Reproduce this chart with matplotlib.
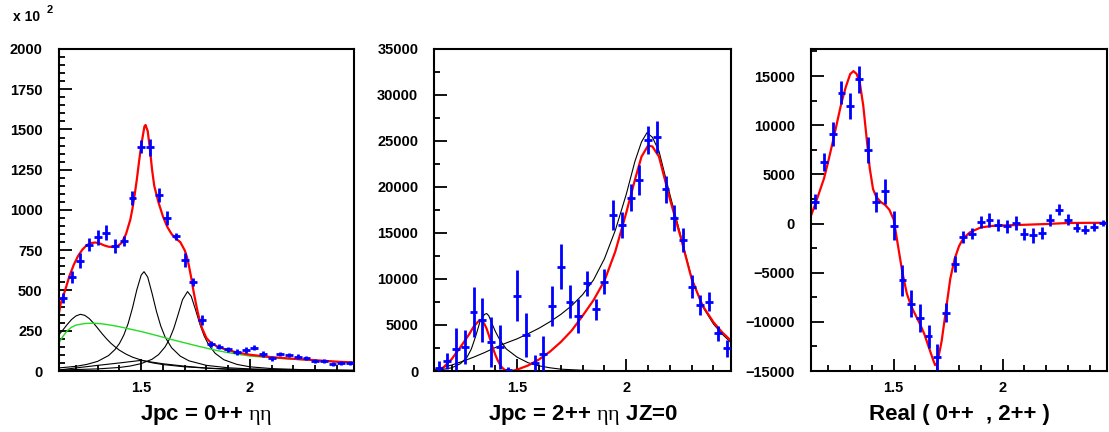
import matplotlib
matplotlib.use("Agg")
import matplotlib.pyplot as plt
from matplotlib.ticker import FixedLocator, MultipleLocator, FixedFormatter

plt.rcParams['font.family'] = ['Liberation Sans', 'DejaVu Sans']
plt.rcParams['font.weight'] = 'bold'
plt.rcParams['mathtext.fontset'] = 'custom'
plt.rcParams['mathtext.rm'] = 'Liberation Serif:weight=normal'

# bin centres (bin width 0.04)
mass = [1.14, 1.18, 1.22, 1.26, 1.30, 1.34, 1.38, 1.42, 1.46, 1.50, 1.54, 1.58,
        1.62, 1.66, 1.70, 1.74, 1.78, 1.82, 1.86, 1.90, 1.94, 1.98, 2.02, 2.06,
        2.10, 2.14, 2.18, 2.22, 2.26, 2.30, 2.34, 2.38, 2.42, 2.46]

# ---- panel 1 : 0++ (units of 10^2)
p1_val = [451, 584, 685, 785, 830, 859, 774, 806, 1074, 1393, 1389, 1095,
          949, 836, 689, 553, 319, 170, 152, 135, 119, 130, 145, 106,
          79, 106, 98, 89, 79, 64, 62, 46, 50, 50]
p1_err = [31, 37, 45, 39, 46, 48, 44, 31, 42, 41, 54, 43,
          45, 21, 45, 26, 31, 18, 17, 17, 17, 16, 16, 16,
          15, 15, 14, 14, 13, 13, 12, 12, 11, 11]

p1_fit_x = [1.12, 1.13, 1.15, 1.17, 1.19, 1.21, 1.23, 1.25, 1.27, 1.29, 1.31, 1.33,
            1.35, 1.37, 1.39, 1.41, 1.43, 1.45, 1.46, 1.47, 1.48, 1.49, 1.50, 1.51,
            1.515, 1.52, 1.53, 1.54, 1.55, 1.56, 1.58, 1.60, 1.62, 1.64, 1.66, 1.68,
            1.70, 1.71, 1.72, 1.73, 1.74, 1.75, 1.76, 1.77, 1.78, 1.80, 1.82, 1.85,
            1.90, 1.95, 2.00, 2.10, 2.20, 2.30, 2.40, 2.48]
p1_fit_y = [345, 420, 500, 590, 660, 715, 755, 782, 795, 798, 792, 780,
            772, 770, 775, 795, 850, 940, 1010, 1095, 1190, 1300, 1400, 1480,
            1520, 1528, 1490, 1380, 1250, 1150, 1045, 960, 895, 850, 822, 800,
            750, 710, 650, 580, 500, 430, 365, 310, 265, 205, 175, 152,
            128, 113, 101, 86, 76, 67, 58, 53]

p1_bkg_x = [1.12, 1.14, 1.16, 1.18, 1.20, 1.24, 1.28, 1.32, 1.36, 1.40, 1.45, 1.50,
            1.55, 1.60, 1.65, 1.70, 1.75, 1.80, 1.85, 1.90, 1.95, 2.00, 2.10, 2.20,
            2.30, 2.40, 2.48]
p1_bkg_y = [170, 215, 250, 272, 285, 295, 297, 293, 285, 275, 260, 245,
            228, 210, 192, 175, 158, 142, 127, 114, 103, 93, 82, 73,
            65, 57, 52]

p1_a_x = [1.12, 1.14, 1.16, 1.18, 1.20, 1.22, 1.24, 1.26, 1.28, 1.30, 1.32, 1.34,
          1.36, 1.38, 1.40, 1.43, 1.46, 1.50, 1.55, 1.60, 1.70, 1.80, 1.90, 2.00,
          2.20, 2.48]
p1_a_y = [222, 255, 289, 320, 342, 352, 346, 327, 299, 266, 232, 201,
          173, 150, 129, 105, 86, 68, 51, 40, 26, 18, 13, 10,
          7, 4]

p1_b_x = [1.12, 1.20, 1.25, 1.30, 1.35, 1.38, 1.40, 1.42, 1.44, 1.46, 1.48, 1.50,
          1.513, 1.53, 1.55, 1.57, 1.59, 1.61, 1.64, 1.68, 1.72, 1.80, 1.90, 2.00,
          2.20, 2.48]
p1_b_y = [19, 29, 41, 60, 96, 134, 171, 223, 295, 392, 505, 596,
          617, 583, 482, 371, 279, 211, 144, 92, 63, 35, 20, 13,
          6, 3]

p1_c_x = [1.12, 1.30, 1.40, 1.45, 1.50, 1.55, 1.58, 1.61, 1.63, 1.65, 1.67, 1.69,
          1.713, 1.73, 1.75, 1.77, 1.79, 1.81, 1.84, 1.88, 1.94, 2.00, 2.10, 2.25,
          2.48]
p1_c_y = [6, 13, 22, 31, 46, 73, 102, 150, 198, 265, 352, 443,
          493, 464, 380, 290, 216, 163, 110, 70, 41, 26, 15, 8,
          4]

p1_d_x = [1.12, 1.20, 1.30, 1.40, 1.50, 1.55, 1.60, 1.70, 1.80, 1.90, 2.00, 2.10, 2.48]
p1_d_y = [6, 19, 35, 50, 66, 55, 45, 30, 18, 10, 5, 2, 0]

# ---- panel 2 : 2++ JZ=0
p2_val = [362, 1087, 2391, 2645, 6413, 5543, 3116, 2645, 109, 8188, 3913, 833,
          1812, 7065, 11340, 7536, 5978, 9528, 6703, 9710, 16956, 15869, 18840, 20760,
          25108, 25398, 19745, 16594, 14238, 9166, 7174, 7536, 4094, 2464]
p2_err = [700, 900, 2300, 1850, 2700, 2350, 2700, 2400, 300, 2800, 2400, 900,
          2000, 2200, 2450, 1800, 1800, 1350, 1150, 1350, 1650, 1400, 1500, 1650,
          1550, 1750, 1450, 1400, 1350, 1270, 1100, 1000, 850, 900]

p2_fit_x = [1.12, 1.16, 1.20, 1.24, 1.28, 1.30, 1.32, 1.33, 1.34, 1.35, 1.36, 1.37,
            1.38, 1.39, 1.40, 1.41, 1.42, 1.43, 1.44, 1.45, 1.46, 1.47, 1.48, 1.50,
            1.55, 1.60, 1.65, 1.70, 1.75, 1.80, 1.85, 1.90, 1.95, 2.00, 2.04, 2.07,
            2.10, 2.12, 2.15, 2.20, 2.25, 2.30, 2.35, 2.40, 2.44, 2.48]
p2_fit_y = [0, 350, 1300, 2600, 4000, 4800, 5350, 5500, 5450, 5100, 4600, 3900,
            3150, 2400, 1750, 1200, 750, 400, 170, 50, 5, 0, 20, 150,
            600, 1250, 2100, 3150, 4400, 6000, 7700, 9800, 13000, 17200, 20800, 23300,
            24500, 24400, 23300, 18700, 14500, 10000, 7100, 5300, 4200, 3300]

p2_broad_x = [1.12, 1.16, 1.20, 1.25, 1.30, 1.35, 1.40, 1.45, 1.50, 1.55, 1.60, 1.65,
              1.70, 1.75, 1.80, 1.85, 1.90, 1.95, 2.00, 2.04, 2.07, 2.095, 2.12, 2.15,
              2.20, 2.25, 2.30, 2.35, 2.40, 2.44, 2.48]
p2_broad_y = [150, 400, 650, 1050, 1500, 2000, 2550, 3050, 3500, 4050, 4650, 5350,
              6150, 7100, 8300, 9900, 12200, 15300, 19200, 22800, 24900, 25900, 25400, 23900,
              19200, 14700, 10100, 7000, 5100, 4000, 3100]

p2_peak_x = [1.12, 1.16, 1.20, 1.24, 1.27, 1.29, 1.31, 1.33, 1.35, 1.36, 1.37, 1.38,
             1.40, 1.42, 1.45, 1.50, 1.55, 1.60, 1.65, 1.70, 1.80, 1.90, 2.00, 2.20, 2.48]
p2_peak_y = [80, 180, 350, 800, 1500, 2400, 3800, 5400, 6150, 6250, 6000, 5400,
             4300, 3400, 2400, 1500, 900, 560, 350, 200, 80, 30, 10, 0, 0]

# ---- panel 3 : interference Real(0++, 2++)
p3_val = [2206, 6279, 9062, 13305, 11947, 14662, 7467, 2206, 3292, -204, -5770, -8146,
          -9605, -11472, -13576, -9062, -4141, -1358, -1018, 170, 340, -170, -272, 68,
          -1018, -1188, -950, 340, 1425, 407, -407, -611, -339, 68]
p3_err = [750, 930, 1220, 1190, 1320, 1360, 1320, 1000, 1270, 1460, 1580, 1360,
          1440, 1150, 1320, 930, 815, 610, 540, 620, 680, 600, 680, 680,
          610, 750, 610, 610, 580, 580, 410, 410, 410, 340]

p3_fit_x = [1.12, 1.14, 1.16, 1.18, 1.20, 1.22, 1.24, 1.26, 1.28, 1.30, 1.315, 1.33,
            1.345, 1.36, 1.375, 1.39, 1.405, 1.42, 1.44, 1.46, 1.48, 1.50, 1.52, 1.54,
            1.56, 1.58, 1.60, 1.62, 1.64, 1.66, 1.68, 1.69, 1.70, 1.72, 1.74, 1.76,
            1.78, 1.80, 1.82, 1.85, 1.90, 1.95, 2.00, 2.10, 2.20, 2.30, 2.40, 2.48]
p3_fit_y = [800, 2000, 3300, 4600, 6400, 8300, 10300, 12300, 13900, 15200, 15500, 15200,
            14200, 12000, 8800, 5600, 3500, 2700, 2200, 1900, 1400, 400, -2300, -5000,
            -7100, -8400, -9300, -10200, -11200, -12500, -13800, -14400, -14200, -12000, -8800, -5600,
            -3600, -2300, -1500, -900, -400, -250, -200, -130, -50, 50, 70, 70]

titles = [r"Jpc = 0++ $\mathrm{\eta\eta}$",
          r"Jpc = 2++ $\mathrm{\eta\eta}$ JZ=0",
          "Real ( 0++  , 2++ )"]

BLUE = '#0000ff'
RED = '#ff0000'
GREEN = '#22dd22'

fig = plt.figure(figsize=(11.09, 4.32), dpi=100)
ax1 = fig.add_axes([0.0528, 0.1412, 0.2667, 0.7454])
ax2 = fig.add_axes([0.3916, 0.1412, 0.2675, 0.7454])
ax3 = fig.add_axes([0.7313, 0.1412, 0.2669, 0.7454])

for ax in (ax1, ax2, ax3):
    ax.set_xlim(1.12, 2.48)
    ax.xaxis.set_major_locator(FixedLocator([1.5, 2.0]))
    ax.xaxis.set_major_formatter(FixedFormatter(['1.5', '2']))
    ax.xaxis.set_minor_locator(MultipleLocator(0.1))
    ax.tick_params(which='both', direction='in', top=False, right=False,
                   width=1.3, labelsize=10.5)
    ax.tick_params(which='major', length=9)
    ax.tick_params(which='minor', length=4.5)
    ax.tick_params(axis='y', pad=11.5)
    ax.tick_params(axis='x', pad=7)
    for s in ax.spines.values():
        s.set_linewidth(1.5)

# panel 1
ax1.plot(p1_d_x, p1_d_y, color='k', lw=0.8)
ax1.plot(p1_a_x, p1_a_y, color='k', lw=0.8)
ax1.plot(p1_b_x, p1_b_y, color='k', lw=0.8)
ax1.plot(p1_c_x, p1_c_y, color='k', lw=0.8)
ax1.plot(p1_bkg_x, p1_bkg_y, color=GREEN, lw=1.0)
ax1.plot(p1_fit_x, p1_fit_y, color=RED, lw=1.6)
ax1.errorbar(mass, p1_val, yerr=p1_err, xerr=0.018, fmt='none', ecolor=BLUE,
             elinewidth=2.0, capsize=0, zorder=5)
ax1.set_ylim(0, 2000)
ax1.yaxis.set_major_locator(MultipleLocator(250))
ax1.yaxis.set_minor_locator(MultipleLocator(50))

# panel 2
ax2.plot(p2_peak_x, p2_peak_y, color='k', lw=0.8)
ax2.plot(p2_broad_x, p2_broad_y, color='k', lw=0.8)
ax2.plot(p2_fit_x, p2_fit_y, color=RED, lw=1.6)
ax2.errorbar(mass, p2_val, yerr=p2_err, xerr=0.018, fmt='none', ecolor=BLUE,
             elinewidth=2.0, capsize=0, zorder=5)
ax2.set_ylim(0, 35000)
ax2.yaxis.set_major_locator(MultipleLocator(5000))
ax2.yaxis.set_minor_locator(MultipleLocator(2500))

# panel 3
ax3.plot(p3_fit_x, p3_fit_y, color=RED, lw=1.6)
ax3.errorbar(mass, p3_val, yerr=p3_err, xerr=0.018, fmt='none', ecolor=BLUE,
             elinewidth=2.0, capsize=0, zorder=5)
ax3.set_ylim(-15000, 17750)
ax3.yaxis.set_major_locator(MultipleLocator(5000))
ax3.yaxis.set_minor_locator(MultipleLocator(2500))

for ax, t in zip((ax1, ax2, ax3), titles):
    pos = ax.get_position()
    fig.text((pos.x0 + pos.x1) / 2, 0.028, t, ha='center', va='baseline',
             fontsize=16, fontweight='bold')

fig.text(0.012, 0.951, 'x 10', fontsize=10, fontweight='bold', va='baseline')
fig.text(0.042, 0.970, '2', fontsize=8, fontweight='bold', va='baseline')

fig.savefig('out.png', dpi=100)
